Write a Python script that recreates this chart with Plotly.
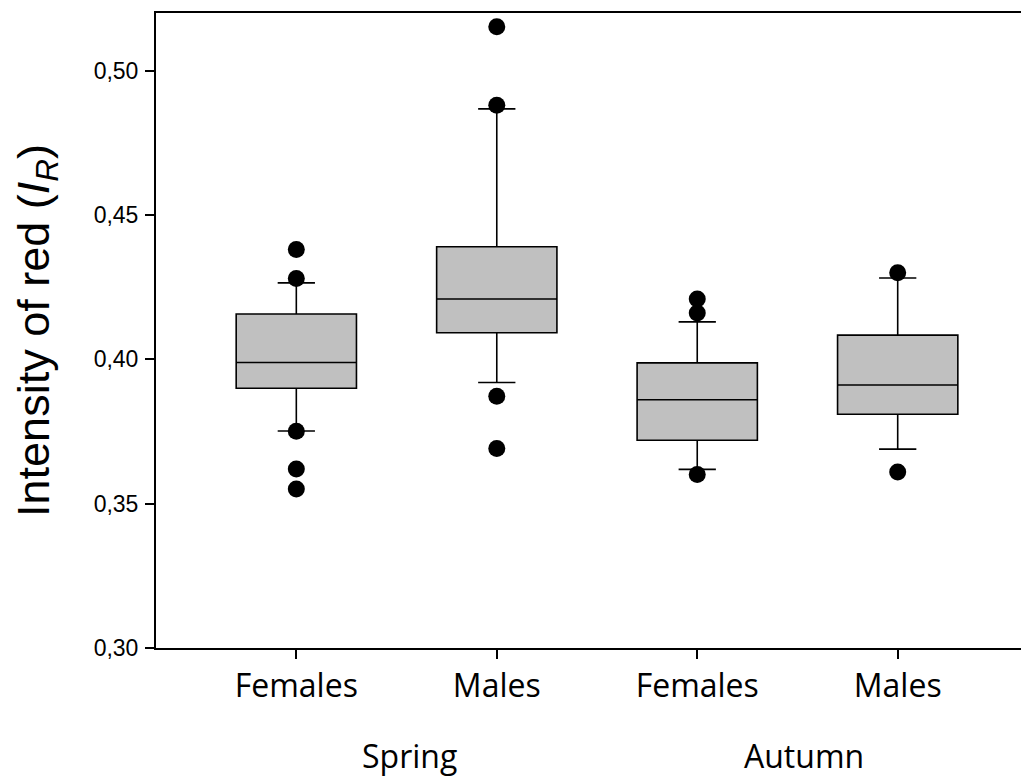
import plotly.graph_objects as go

# ---- data ----
sexes = ["Females", "Males", "Females", "Males"]
seasons = ["Spring", "Autumn"]
q1 = [0.3900, 0.4092, 0.3720, 0.3810]
median = [0.3989, 0.4209, 0.3860, 0.3911]
q3 = [0.4157, 0.4390, 0.3988, 0.4084]
lower_whisker = [0.3752, 0.3920, 0.3619, 0.3689]
upper_whisker = [0.4265, 0.4868, 0.4130, 0.4282]
out_spring_f = [0.4381, 0.4280, 0.3751, 0.3620, 0.3551]
out_spring_m = [0.5152, 0.4880, 0.3872, 0.3691]
out_autumn_f = [0.4209, 0.4161, 0.3601]
out_autumn_m = [0.4300, 0.3610]
y_ticks = [0.30, 0.35, 0.40, 0.45, 0.50]

positions = list(range(len(sexes)))
outliers = [out_spring_f, out_spring_m, out_autumn_f, out_autumn_m]

fig = go.Figure()
fig.add_trace(go.Box(
    x=positions, q1=q1, median=median, q3=q3,
    lowerfence=lower_whisker, upperfence=upper_whisker,
    width=0.6, whiskerwidth=0.31,
    fillcolor="#c0c0c0",
    line=dict(color="black", width=1.6),
    boxpoints=False, showlegend=False, hoverinfo="skip",
))
ox, oy = [], []
for p, vals in zip(positions, outliers):
    ox += [p] * len(vals)
    oy += vals
fig.add_trace(go.Scatter(
    x=ox, y=oy, mode="markers",
    marker=dict(color="black", size=17),
    showlegend=False, hoverinfo="skip",
))

# page body has an 8px margin, so the figure is sized to fit the window
fig.update_layout(
    width=1021, height=768,
    margin=dict(l=148, r=0, t=5, b=128),
    paper_bgcolor="white", plot_bgcolor="white",
    separators=",.",
    font=dict(family="Liberation Sans, Arial", color="black"),
)
fig.update_xaxes(
    range=[-0.7, 3.655],
    tickvals=positions, ticktext=sexes,
    tickfont=dict(family="Open Sans", size=32),
    ticks="outside", ticklen=9, tickwidth=1.5, tickcolor="black",
    showline=True, linecolor="black", linewidth=2, mirror=True,
    showgrid=False, zeroline=False,
)
fig.update_yaxes(
    range=[0.30, 0.52],
    tickvals=y_ticks, tickformat=".2f",
    tickfont=dict(size=23),
    ticks="outside", ticklen=9, tickwidth=1.5, tickcolor="black",
    ticklabelstandoff=2,
    showline=True, linecolor="black", linewidth=2,
    showgrid=False, zeroline=False,
    title=dict(text="Intensity of red (<i>I</i><sub><i>R</i></sub>)",
               font=dict(size=45), standoff=36),
)
group_x = [0.565, 2.535]
for gx, s in zip(group_x, seasons):
    fig.add_annotation(
        x=gx, y=-0.169, xref="x", yref="paper",
        text=s, showarrow=False,
        font=dict(family="Open Sans", size=32, color="black"),
        xanchor="center", yanchor="middle",
    )

fig.write_html("out.html")
